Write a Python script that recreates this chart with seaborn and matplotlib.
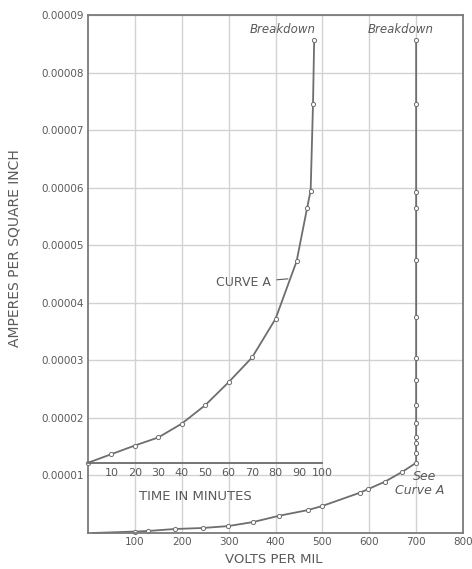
import numpy as np
import pandas as pd
import matplotlib.pyplot as plt
import seaborn as sns

# ---------------- DATA ----------------
# main curve: current density vs voltage gradient (rises to 700 V/mil, then held there)
VOLTS = [10, 100, 128, 186, 245, 299, 352, 408, 470, 500, 580, 597, 633, 670, 700,
         700, 700, 700, 700, 700, 700, 700, 700, 700, 700, 700, 700, 700]
AMPS = [0.0, 0.25e-6, 0.35e-6, 0.7e-6, 0.87e-6, 1.2e-6, 1.9e-6, 3.0e-6, 4.0e-6, 4.7e-6,
        7.0e-6, 7.6e-6, 8.9e-6, 10.6e-6, 12.2e-6,
        13.9e-6, 15.7e-6, 16.7e-6, 19.1e-6, 22.3e-6, 26.6e-6, 30.4e-6, 37.6e-6,
        47.5e-6, 56.5e-6, 59.3e-6, 74.5e-6, 85.7e-6]

# curve A: current at 700 V/mil vs time
MINUTES = [0, 10, 20, 30, 40, 50, 60, 70, 80, 89, 93.5, 95, 96, 96.5]
AMPS_A = [12.2e-6, 13.7e-6, 15.2e-6, 16.6e-6, 19.0e-6, 22.2e-6, 26.2e-6, 30.5e-6,
          37.2e-6, 47.2e-6, 56.5e-6, 59.5e-6, 74.5e-6, 85.7e-6]

Y_TICKS = [1e-5, 2e-5, 3e-5, 4e-5, 5e-5, 6e-5, 7e-5, 8e-5, 9e-5]
Y_LABELS = ["0.00001", "0.00002", "0.00003", "0.00004", "0.00005",
            "0.00006", "0.00007", "0.00008", "0.00009"]
X_TICKS = [100, 200, 300, 400, 500, 600, 700, 800]
T_TICKS = [10, 20, 30, 40, 50, 60, 70, 80, 90, 100]

main_df = pd.DataFrame({"volts": VOLTS, "amps": AMPS})
a_df = pd.DataFrame({"minutes": MINUTES, "amps": AMPS_A})

# ---------------- STYLE ----------------
sns.set_style("white")
plt.rcParams["font.family"] = ["DejaVu Sans"]
INK = "#5a5a5a"
LINE = "#6e6e6e"
GRID = "#d2d2d2"

fig = plt.figure(figsize=(4.72, 5.69), dpi=100)
ax = fig.add_axes([88 / 472, 1 - 533 / 569, 375 / 472, 518 / 569])
ax.set_xlim(0, 800)
ax.set_ylim(0, 9e-5)

ax.set_xticks(X_TICKS)
ax.set_xticklabels([str(v) for v in X_TICKS])
ax.set_yticks(Y_TICKS)
ax.set_yticklabels(Y_LABELS)
ax.tick_params(length=0, labelsize=7.5, colors=INK, pad=3)
ax.grid(True, color=GRID, linewidth=1.0)
for s in ax.spines.values():
    s.set_color("#7a7a7a")
    s.set_linewidth(1.3)

sns.lineplot(data=main_df, x="volts", y="amps", estimator=None, sort=False,
             color=LINE, linewidth=1.3, marker="o", markersize=3,
             markerfacecolor="white", markeredgecolor=LINE, markeredgewidth=0.7,
             markevery=list(range(1, len(VOLTS))),
             ax=ax, clip_on=False)

ax.set_xlabel("VOLTS PER MIL", fontsize=9.5, color=INK)
ax.xaxis.set_label_coords(0.496, -0.038)
ax.set_ylabel("AMPERES PER SQUARE INCH", fontsize=10, color=INK)
ax.yaxis.set_label_coords(-0.178, 0.55)

# ---------------- INSET TIME AXIS (curve A) ----------------
y0 = AMPS_A[0]
ins = ax.inset_axes([0, y0, 500, 9e-5 - y0], transform=ax.transData)
ins.set_facecolor("none")
ins.set_xlim(0, 100)
ins.set_ylim(y0, 9e-5)
for side in ["top", "right", "left"]:
    ins.spines[side].set_visible(False)
ins.spines["bottom"].set_color("#6a6a6a")
ins.spines["bottom"].set_linewidth(1.3)
ins.set_yticks([])
ins.set_xticks(T_TICKS)
ins.set_xticklabels([str(t) for t in T_TICKS])
ins.tick_params(axis="x", direction="in", length=3, width=0.8, colors=INK,
                labelsize=8, pad=4)

sns.lineplot(data=a_df, x="minutes", y="amps", estimator=None, sort=False,
             color=LINE, linewidth=1.3, marker="o", markersize=3,
             markerfacecolor="white", markeredgecolor=LINE, markeredgewidth=0.7,
             ax=ins, clip_on=False)
ins.set_xlabel("TIME IN MINUTES", fontsize=9.5, color=INK, labelpad=2)
ins.xaxis.set_label_coords(0.46, -0.06)
ins.set_ylabel("")

ins.annotate("CURVE A", xy=(86.5, 4.42e-5), xytext=(78, 4.35e-5),
             ha="right", va="center", fontsize=9, color=INK,
             arrowprops=dict(arrowstyle="-", color=INK, lw=0.8))

# ---------------- NOTES ----------------
ax.text(416, 8.75e-5, "Breakdown", style="italic", fontsize=8.5, color=INK,
        ha="center", va="center")
ax.text(666, 8.75e-5, "Breakdown", style="italic", fontsize=8.5, color=INK,
        ha="center", va="center")
ax.text(718, 0.99e-5, "See", style="italic", fontsize=9, color=INK,
        ha="center", va="center")
ax.text(708, 0.74e-5, "Curve A", style="italic", fontsize=9, color=INK,
        ha="center", va="center")

fig.savefig("out.png", dpi=100, facecolor="white")
plt.close(fig)
